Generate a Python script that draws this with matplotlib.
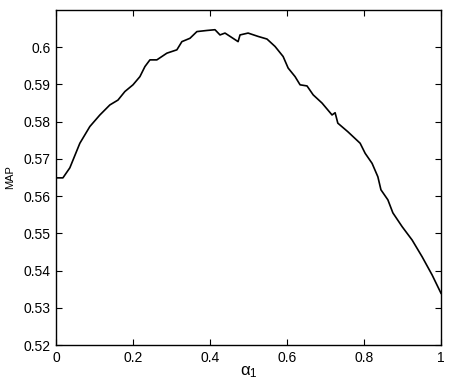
import matplotlib
matplotlib.use("Agg")
import matplotlib.pyplot as plt
from matplotlib.ticker import FuncFormatter

alpha = [0.000, 0.018, 0.036, 0.062, 0.088, 0.114, 0.140, 0.161, 0.179, 0.200,
         0.218, 0.231, 0.244, 0.262, 0.288, 0.314, 0.327, 0.348, 0.366, 0.392,
         0.413, 0.426, 0.439, 0.473, 0.478, 0.499, 0.525, 0.548, 0.569, 0.590,
         0.603, 0.621, 0.634, 0.652, 0.668, 0.691, 0.717, 0.725, 0.732, 0.758,
         0.790, 0.803, 0.821, 0.836, 0.844, 0.862, 0.875, 0.899, 0.925, 0.951,
         0.977, 1.000]
map_vals = [0.5649, 0.5649, 0.5676, 0.5742, 0.5787, 0.5818, 0.5845, 0.5858, 0.5881, 0.5899,
            0.5921, 0.5948, 0.5966, 0.5966, 0.5984, 0.5993, 0.6015, 0.6024, 0.6042, 0.6045,
            0.6047, 0.6033, 0.6038, 0.6015, 0.6033, 0.6038, 0.6029, 0.6022, 0.6002, 0.5975,
            0.5944, 0.5921, 0.5899, 0.5896, 0.5872, 0.5850, 0.5818, 0.5824, 0.5796, 0.5773,
            0.5742, 0.5715, 0.5688, 0.5652, 0.5617, 0.5590, 0.5555, 0.5518, 0.5482, 0.5437,
            0.5388, 0.5339]
xticks = [0, 0.2, 0.4, 0.6, 0.8, 1]
yticks = [0.52, 0.53, 0.54, 0.55, 0.56, 0.57, 0.58, 0.59, 0.6]

plt.rcParams['font.family'] = ['Liberation Sans', 'DejaVu Sans']
plt.rcParams['mathtext.fontset'] = 'custom'
plt.rcParams['mathtext.rm'] = 'Liberation Sans'

fig = plt.figure(figsize=(4.5, 3.8), dpi=100)
ax = fig.add_axes([0.1244, 0.0921, 0.8556, 0.8816])
ax.plot(alpha, map_vals, color='black', linewidth=1.2)
ax.set_xlim(0, 1)
ax.set_ylim(0.52, 0.61)
ax.set_xticks(xticks)
ax.set_yticks(yticks)
ax.xaxis.set_major_formatter(FuncFormatter(lambda v, p: '%g' % v))
ax.yaxis.set_major_formatter(FuncFormatter(lambda v, p: '%g' % round(v, 2)))
ax.tick_params(direction='in', top=True, right=True, length=4, width=0.8,
               labelsize=10, pad=4)
for s in ax.spines.values():
    s.set_linewidth(1.0)
ax.set_ylabel('MAP', fontsize=8, labelpad=6)
ax.set_xlabel(r'$\mathregular{\alpha_1}$', fontsize=12, labelpad=0)
fig.savefig('out.png', dpi=100)
